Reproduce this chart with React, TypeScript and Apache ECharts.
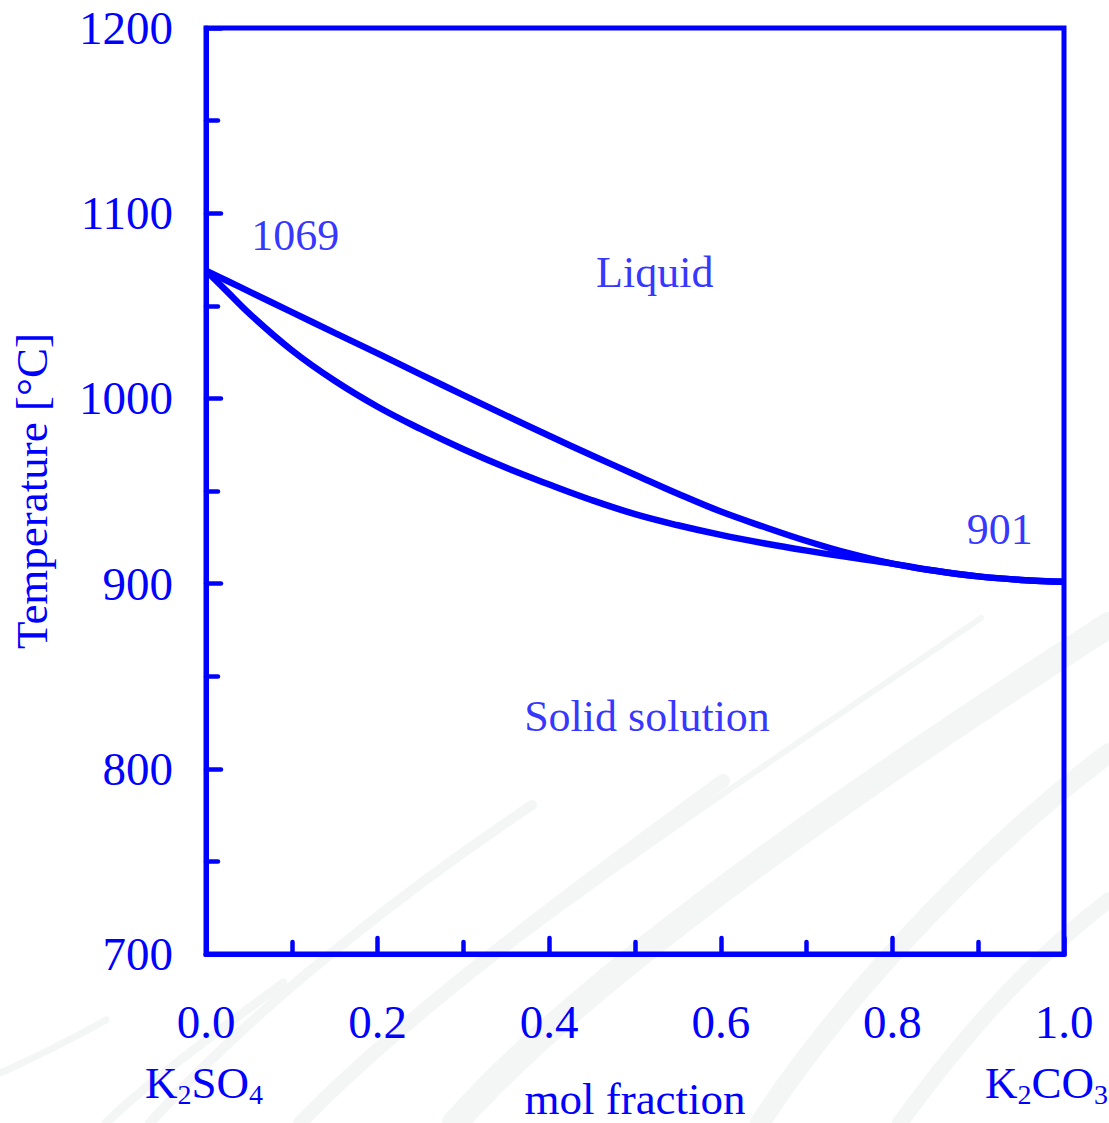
import React, { useEffect, useRef } from "react";
import * as echarts from "echarts";

const BLUE = "#0000ff";
const FONT = "Liberation Serif";

// composition (mol fraction K2CO3)
const molFraction = [0, 0.025, 0.05, 0.1, 0.15, 0.2, 0.25, 0.3, 0.35, 0.4, 0.45, 0.5, 0.55, 0.6, 0.65, 0.7, 0.75, 0.8, 0.85, 0.9, 0.95, 1.0];
// liquidus (upper curve), °C
const liquidus = [1069, 1063.4, 1057.8, 1046.6, 1035.4, 1024.3, 1013.0, 1001.8, 990.7, 979.8, 969.2, 958.8, 948.5, 938.9, 930.7, 923.0, 916.3, 910.8, 906.9, 903.9, 902.0, 901];
// solidus (lower curve), °C
const solidus = [1069, 1057.5, 1046.0, 1026.0, 1009.5, 995.5, 983.5, 972.5, 962.5, 953.5, 945.0, 937.5, 931.5, 926.3, 921.8, 917.8, 914.2, 910.8, 906.9, 903.9, 902.0, 901];

const xTicks = { min: 0, max: 1, interval: 0.2 };
const yTicks = { min: 700, max: 1200, interval: 100 };

// region / point annotations [x, T, text]
const annotations: [number, number, string][] = [
  [0.104, 1088, "1069"],
  [0.523, 1068, "Liquid"],
  [0.514, 828, "Solid solution"],
  [0.925, 929, "901"],
];

export default function App() {
  const ref = useRef<HTMLDivElement>(null);
  useEffect(() => {
    if (!ref.current) return;
    const chart = echarts.init(ref.current, undefined, { renderer: "svg" });
    const pair = (ys: number[]) => molFraction.map((x, i) => [x, ys[i]]);
    const tickStyle = { color: BLUE, width: 4.5, cap: "round" as const };
    const swoosh = "#f4f6f6";
    const bz = (x1: number, y1: number, c1x: number, c1y: number, c2x: number, c2y: number, x2: number, y2: number, w: number) => ({
      type: "bezierCurve",
      z: -10,
      silent: true,
      shape: { x1, y1, cpx1: c1x, cpy1: c1y, cpx2: c2x, cpy2: c2y, x2, y2 },
      style: { stroke: swoosh, lineWidth: w, fill: null, lineCap: "round" },
    });
    const sub = { fontSize: 28, fontFamily: FONT, fill: BLUE, padding: [22, 0, 0, 0] };
    chart.setOption({
      animation: false,
      backgroundColor: "#ffffff",
      textStyle: { fontFamily: FONT },
      grid: {
        left: 206,
        right: 45,
        top: 28,
        bottom: 169,
        show: true,
        borderColor: BLUE,
        borderWidth: 5,
        backgroundColor: "transparent",
        containLabel: false,
        outerBoundsMode: "none",
      },
      xAxis: {
        type: "value",
        ...xTicks,
        name: "mol fraction",
        nameLocation: "middle",
        nameGap: 126,
        nameTextStyle: { color: BLUE, fontSize: 45, fontFamily: FONT, lineHeight: 38 },
        axisLine: { show: true, lineStyle: { color: BLUE, width: 5 } },
        axisTick: { show: true, inside: true, length: 16, lineStyle: tickStyle },
        minorTick: { show: true, splitNumber: 2, length: 12, lineStyle: tickStyle },
        splitLine: { show: false },
        axisLabel: {
          color: BLUE,
          fontSize: 47,
          fontFamily: FONT,
          margin: 44,
          formatter: (v: number) => v.toFixed(1),
        },
      },
      yAxis: {
        type: "value",
        ...yTicks,
        name: "Temperature [°C]",
        nameLocation: "middle",
        nameGap: 152,
        nameTextStyle: { color: BLUE, fontSize: 45, fontFamily: FONT },
        axisLine: { show: true, lineStyle: { color: BLUE, width: 5 } },
        axisTick: { show: true, inside: true, length: 15, lineStyle: tickStyle },
        minorTick: { show: true, splitNumber: 2, length: 12, lineStyle: tickStyle },
        splitLine: { show: false },
        axisLabel: {
          color: BLUE,
          fontSize: 47,
          fontFamily: FONT,
          margin: 33,
          formatter: (v: number) => String(v),
        },
      },
      graphic: [
        bz(981, 618, 760, 770, 480, 950, 300, 1120, 6),
        bz(1109, 625, 900, 760, 600, 960, 455, 1123, 26),
        bz(723, 781, 560, 900, 400, 1020, 300, 1123, 14),
        bz(532, 805, 420, 880, 260, 1000, 150, 1123, 10),
        bz(1109, 753, 980, 850, 840, 1000, 760, 1123, 20),
        bz(1109, 900, 1030, 960, 960, 1040, 900, 1123, 16),
        bz(283, 983, 220, 1030, 150, 1080, 106, 1123, 9),
        bz(106, 1020, 70, 1040, 30, 1060, 0, 1073, 7),
        {
          type: "text",
          x: 145,
          y: 1058,
          z: 10,
          style: {
            text: "K{s|2}SO{s|4}",
            fill: BLUE,
            fontSize: 45,
            fontFamily: FONT,
            rich: { s: sub },
          },
        },
        {
          type: "text",
          x: 985,
          y: 1058,
          z: 10,
          style: {
            text: "K{s|2}CO{s|3}",
            fill: BLUE,
            fontSize: 45,
            fontFamily: FONT,
            rich: { s: sub },
          },
        },
      ],
      series: [
        {
          type: "line",
          name: "liquidus",
          data: pair(liquidus),
          smooth: 0.4,
          showSymbol: false,
          lineStyle: { color: BLUE, width: 6.5 },
          z: 3,
        },
        {
          type: "line",
          name: "solidus",
          data: pair(solidus),
          smooth: 0.4,
          showSymbol: false,
          lineStyle: { color: BLUE, width: 6.5 },
          z: 3,
        },
        {
          type: "scatter",
          symbolSize: 1,
          itemStyle: { color: "rgba(0,0,0,0)" },
          silent: true,
          data: annotations.map(([x, y, t]) => ({ value: [x, y], name: t })),
          label: {
            show: true,
            position: "inside",
            formatter: "{b}",
            color: BLUE,
            fontSize: 44,
            fontFamily: FONT,
          },
          z: 5,
        },
      ],
    });
    return () => chart.dispose();
  }, []);
  return (
    <div
      ref={ref}
      style={{ position: "fixed", left: 0, top: 0, width: 1109, height: 1123, background: "#fff" }}
    />
  );
}
